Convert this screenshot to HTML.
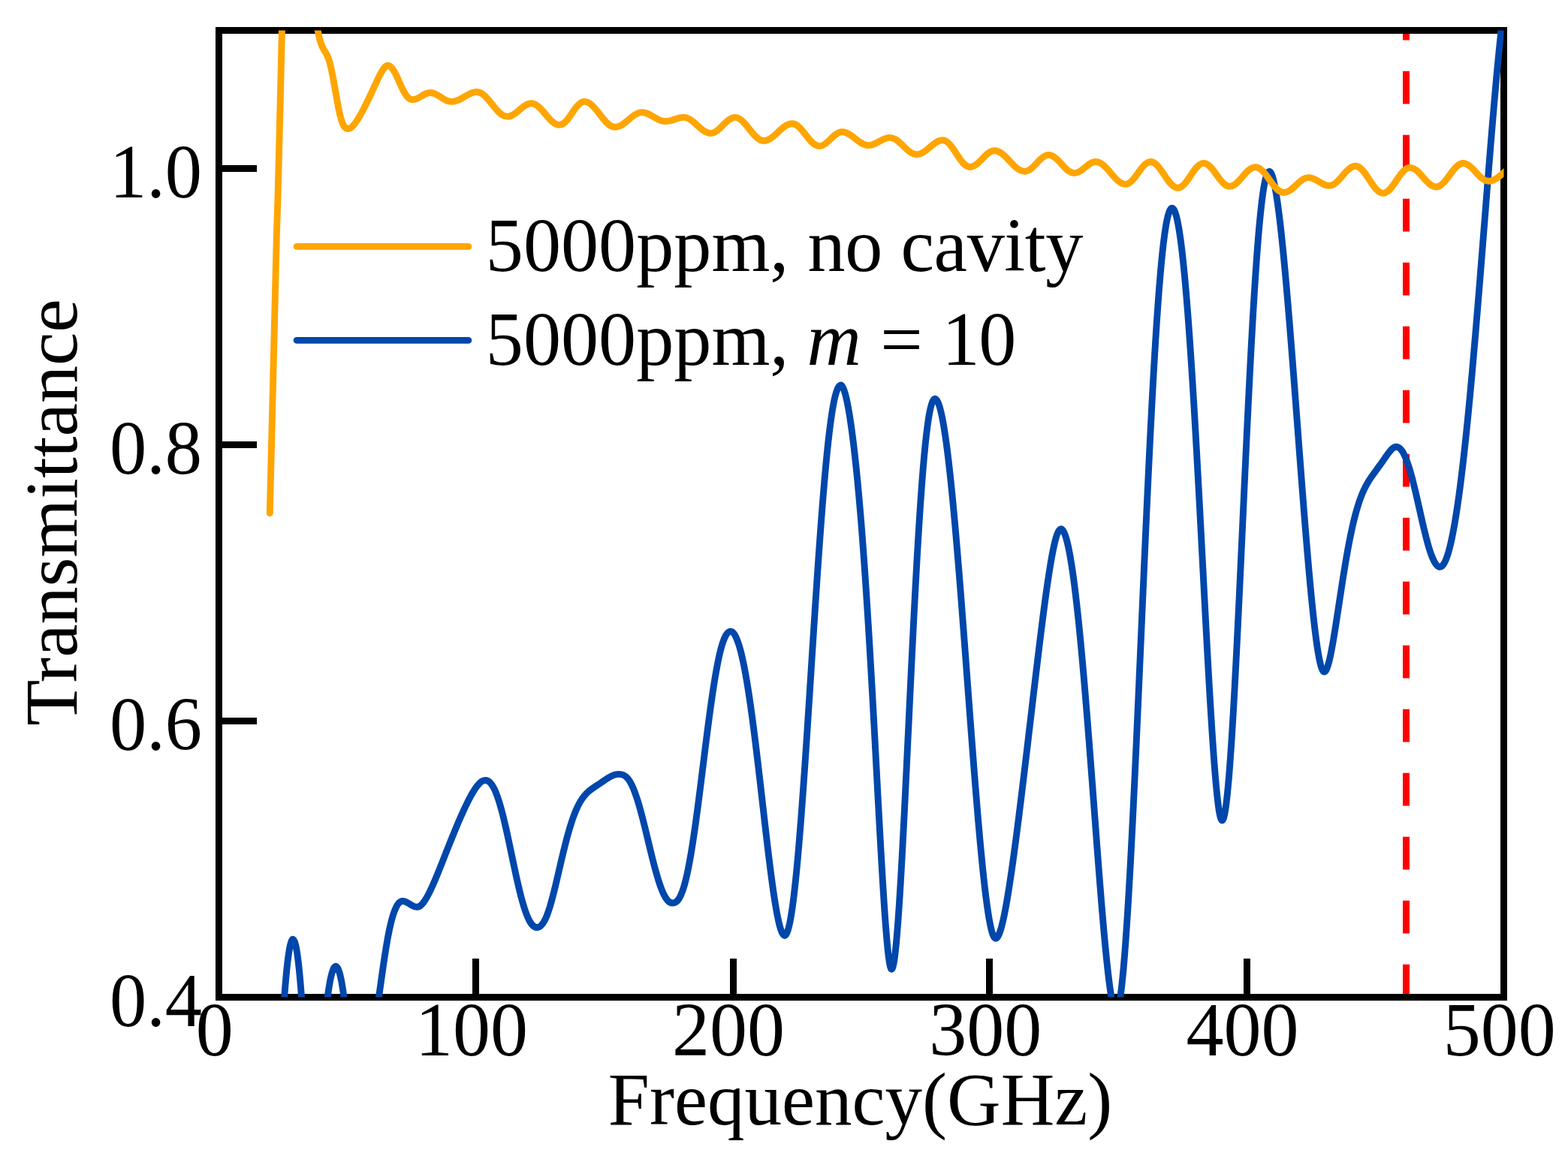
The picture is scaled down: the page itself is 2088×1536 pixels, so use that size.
<!DOCTYPE html>
<html lang="en"><head><meta charset="utf-8"><title>Transmittance vs Frequency</title>
<style>html,body{margin:0;padding:0;background:#fff}body{width:2088px;height:1536px;overflow:hidden}svg{display:block}text{font-family:"Liberation Serif","Times New Roman",serif;font-size:100px;fill:#000}</style></head><body>
<svg width="2088" height="1536" viewBox="0 0 2088 1536">
<defs><clipPath id="ax"><rect x="291.50" y="40.50" width="1711.00" height="1288.00"/></clipPath></defs>
<rect width="2088" height="1536" fill="#fff"/>
<path d="M1872.5 1328.50V0" stroke="#f00" stroke-width="9.00" stroke-dasharray="43.8 41.2" fill="none" clip-path="url(#ax)"/>
<path d="M629.0 1277h9V1328.5h-9zM972.0 1277h9V1328.5h-9zM1313.0 1277h9V1328.5h-9zM1656.0 1277h9V1328.5h-9zM291.5 956.0H342v9H291.5zM291.5 588.0H342v9H291.5zM291.5 220.0H342v9H291.5z" fill="#000"/>
<rect x="291.50" y="40.50" width="1711.00" height="1288.00" fill="none" stroke="#000" stroke-width="9.00"/>
<path d="M375.82 1371.68C376.04 1368.08 376.25 1364.56 376.46 1361.12C376.68 1357.68 376.89 1354.33 377.10 1351.05C377.33 1347.57 377.56 1344.18 377.78 1340.88C378.02 1337.39 378.27 1334.00 378.51 1330.72C378.76 1327.24 379.01 1323.89 379.27 1320.65C379.55 1317.06 379.83 1313.62 380.11 1310.31C380.41 1306.69 380.72 1303.24 381.03 1299.95C381.36 1296.38 381.70 1293.00 382.03 1289.82C382.40 1286.26 382.78 1282.95 383.15 1279.89C383.61 1276.17 384.06 1272.81 384.51 1269.82C385.11 1265.86 385.71 1262.53 386.32 1259.85C387.72 1253.59 389.12 1250.81 390.52 1251.50C391.71 1252.09 392.90 1255.18 394.08 1260.77C394.67 1263.53 395.26 1266.90 395.85 1270.89C396.29 1273.88 396.73 1277.21 397.17 1280.88C397.54 1284.00 397.92 1287.36 398.29 1290.98C398.62 1294.20 398.96 1297.63 399.29 1301.25C399.59 1304.43 399.88 1307.77 400.17 1311.26C400.45 1314.59 400.73 1318.06 401.01 1321.67C401.27 1324.94 401.52 1328.32 401.77 1331.81C402.01 1335.13 402.26 1338.54 402.50 1342.05C402.72 1345.37 402.95 1348.78 403.18 1352.28C403.39 1355.58 403.60 1358.96 403.82 1362.41C404.03 1365.87 404.24 1369.41 404.46 1373.03M431.10 1375.62C431.42 1372.09 431.74 1368.65 432.06 1365.33C432.39 1361.86 432.73 1358.52 433.06 1355.28C433.42 1351.79 433.78 1348.44 434.14 1345.21C434.54 1341.63 434.94 1338.22 435.35 1334.97C435.79 1331.40 436.23 1328.02 436.67 1324.85C437.16 1321.30 437.65 1317.99 438.15 1314.94C438.75 1311.23 439.35 1307.90 439.95 1304.93C440.74 1301.05 441.53 1297.80 442.31 1295.20C444.04 1289.52 445.76 1286.90 447.48 1287.35C449.03 1287.76 450.58 1290.65 452.13 1296.02C452.90 1298.70 453.67 1302.01 454.45 1305.93C455.04 1308.91 455.62 1312.25 456.21 1315.94C456.71 1319.05 457.20 1322.40 457.69 1326.01C458.12 1329.14 458.55 1332.45 458.97 1335.95C459.36 1339.12 459.75 1342.45 460.14 1345.93C460.50 1349.17 460.86 1352.55 461.22 1356.06C461.55 1359.31 461.89 1362.68 462.22 1366.16C462.51 1369.22 462.81 1372.38 463.10 1375.62M495.00 1370.00C496.29 1369.98 497.59 1366.49 498.88 1361.01C499.55 1358.18 500.22 1354.81 500.89 1351.07C501.44 1347.99 501.99 1344.66 502.54 1341.17C503.05 1337.95 503.56 1334.60 504.06 1331.16C504.54 1327.90 505.02 1324.56 505.50 1321.18C505.97 1317.87 506.44 1314.52 506.91 1311.16C507.38 1307.80 507.85 1304.43 508.32 1301.09C508.79 1297.75 509.26 1294.42 509.73 1291.14C510.22 1287.73 510.71 1284.37 511.20 1281.08C511.71 1277.67 512.21 1274.33 512.72 1271.07C513.25 1267.65 513.79 1264.33 514.32 1261.12C514.89 1257.70 515.46 1254.41 516.03 1251.26C516.66 1247.77 517.29 1244.46 517.93 1241.33C518.64 1237.81 519.36 1234.53 520.07 1231.49C520.91 1227.92 521.75 1224.69 522.59 1221.79C523.66 1218.11 524.73 1214.96 525.80 1212.30C527.38 1208.36 528.96 1205.48 530.54 1203.51C533.48 1199.87 536.42 1199.93 539.35 1200.96C542.25 1201.98 545.16 1204.15 548.06 1205.86C551.21 1207.71 554.37 1209.12 557.52 1207.87C559.92 1206.93 562.33 1204.48 564.73 1201.11C566.47 1198.67 568.21 1195.73 569.94 1192.46C571.42 1189.69 572.89 1186.67 574.37 1183.49C575.74 1180.53 577.12 1177.42 578.49 1174.21C579.78 1171.20 581.07 1168.10 582.37 1164.95C583.62 1161.89 584.87 1158.79 586.12 1155.66C587.36 1152.57 588.59 1149.47 589.82 1146.35C591.05 1143.24 592.29 1140.11 593.52 1136.99C594.75 1133.87 595.98 1130.76 597.21 1127.66C598.47 1124.50 599.72 1121.37 600.97 1118.26C602.24 1115.09 603.52 1111.96 604.79 1108.86C606.08 1105.71 607.37 1102.59 608.67 1099.52C609.98 1096.40 611.29 1093.32 612.61 1090.31C613.98 1087.15 615.35 1084.06 616.73 1081.04C618.16 1077.89 619.60 1074.82 621.03 1071.86C622.54 1068.74 624.06 1065.73 625.57 1062.88C627.23 1059.76 628.89 1056.84 630.54 1054.16C632.48 1051.03 634.42 1048.24 636.36 1045.94C638.97 1042.86 641.57 1040.65 644.18 1039.84C647.15 1038.91 650.12 1039.74 653.09 1042.96C654.87 1044.88 656.65 1047.69 658.43 1051.41C659.69 1054.05 660.95 1057.15 662.21 1060.68C663.25 1063.58 664.28 1066.76 665.32 1070.21C666.23 1073.26 667.14 1076.51 668.05 1079.94C668.89 1083.08 669.72 1086.37 670.56 1089.79C671.33 1092.97 672.11 1096.25 672.88 1099.62C673.63 1102.86 674.37 1106.17 675.12 1109.55C675.83 1112.80 676.55 1116.09 677.26 1119.43C677.96 1122.69 678.66 1125.99 679.36 1129.31C680.06 1132.63 680.76 1135.96 681.46 1139.29C682.16 1142.62 682.86 1145.95 683.56 1149.26C684.25 1152.57 684.95 1155.86 685.65 1159.11C686.37 1162.43 687.08 1165.71 687.80 1168.93C688.54 1172.29 689.29 1175.58 690.03 1178.79C690.82 1182.19 691.61 1185.50 692.40 1188.68C693.24 1192.05 694.07 1195.29 694.91 1198.37C695.84 1201.78 696.76 1205.01 697.69 1208.01C698.77 1211.50 699.85 1214.69 700.93 1217.55C702.28 1221.13 703.63 1224.19 704.99 1226.70C707.08 1230.58 709.18 1233.12 711.28 1234.39C714.36 1236.25 717.43 1235.87 720.51 1233.07C722.37 1231.37 724.23 1228.58 726.10 1224.65C727.36 1222.00 728.62 1218.83 729.87 1215.22C730.89 1212.30 731.91 1209.09 732.92 1205.63C733.82 1202.59 734.71 1199.36 735.61 1195.99C736.46 1192.80 737.30 1189.47 738.15 1186.06C738.95 1182.84 739.75 1179.54 740.55 1176.18C741.32 1172.93 742.09 1169.63 742.87 1166.31C743.64 1162.99 744.42 1159.65 745.19 1156.32C745.97 1152.98 746.74 1149.66 747.52 1146.36C748.29 1143.06 749.06 1139.80 749.84 1136.58C750.64 1133.27 751.44 1130.01 752.23 1126.82C753.08 1123.45 753.93 1120.15 754.78 1116.97C755.67 1113.60 756.57 1110.34 757.46 1107.22C758.43 1103.85 759.40 1100.63 760.37 1097.58C761.45 1094.15 762.54 1090.94 763.63 1087.94C764.87 1084.55 766.10 1081.44 767.34 1078.60C768.81 1075.21 770.29 1072.21 771.76 1069.56C773.60 1066.26 775.44 1063.51 777.28 1061.16C779.60 1058.19 781.93 1055.88 784.25 1053.90C786.96 1051.60 789.67 1049.74 792.38 1047.95C795.19 1046.09 798.00 1044.28 800.80 1042.40C803.59 1040.53 806.37 1038.60 809.15 1036.84C812.13 1034.95 815.11 1033.28 818.08 1032.31C821.39 1031.24 824.70 1031.04 828.00 1031.77C830.72 1032.37 833.43 1033.97 836.14 1037.32C837.88 1039.47 839.62 1042.32 841.36 1045.91C842.67 1048.60 843.98 1051.71 845.28 1055.21C846.37 1058.11 847.45 1061.27 848.54 1064.67C849.51 1067.72 850.49 1070.95 851.46 1074.35C852.35 1077.47 853.25 1080.72 854.14 1084.08C854.98 1087.27 855.83 1090.54 856.68 1093.89C857.49 1097.11 858.30 1100.40 859.12 1103.73C859.91 1106.99 860.71 1110.29 861.51 1113.61C862.29 1116.86 863.07 1120.12 863.86 1123.38C864.65 1126.70 865.45 1130.02 866.25 1133.30C867.05 1136.58 867.84 1139.83 868.64 1143.01C869.47 1146.33 870.30 1149.58 871.13 1152.75C872.01 1156.10 872.89 1159.34 873.76 1162.46C874.72 1165.87 875.68 1169.12 876.64 1172.19C877.71 1175.61 878.77 1178.80 879.84 1181.72C881.12 1185.21 882.40 1188.32 883.67 1190.99C885.43 1194.66 887.18 1197.51 888.94 1199.51C891.88 1202.86 894.83 1203.61 897.77 1202.80C900.15 1202.15 902.52 1200.21 904.89 1196.04C906.24 1193.69 907.58 1190.64 908.92 1186.82C909.90 1184.03 910.88 1180.83 911.86 1177.22C912.67 1174.24 913.48 1170.98 914.29 1167.45C914.99 1164.37 915.70 1161.07 916.40 1157.58C917.04 1154.42 917.67 1151.10 918.31 1147.63C918.90 1144.43 919.48 1141.11 920.06 1137.66C920.62 1134.41 921.17 1131.06 921.72 1127.60C922.23 1124.36 922.75 1121.03 923.26 1117.61C923.76 1114.31 924.26 1110.94 924.76 1107.49C925.24 1104.16 925.72 1100.77 926.21 1097.32C926.67 1094.00 927.13 1090.62 927.60 1087.19C928.05 1083.89 928.49 1080.54 928.94 1077.16C929.39 1073.78 929.83 1070.36 930.28 1066.91C930.71 1063.59 931.14 1060.24 931.57 1056.88C932.00 1053.51 932.43 1050.11 932.86 1046.70C933.29 1043.30 933.72 1039.87 934.15 1036.43C934.58 1033.00 935.01 1029.55 935.44 1026.10C935.85 1022.79 936.27 1019.47 936.68 1016.15C937.09 1012.84 937.51 1009.52 937.92 1006.21C938.35 1002.77 938.78 999.33 939.21 995.91C939.64 992.48 940.07 989.07 940.50 985.68C940.93 982.29 941.36 978.92 941.79 975.58C942.22 972.23 942.65 968.91 943.08 965.63C943.53 962.21 943.97 958.83 944.42 955.49C944.88 952.02 945.35 948.59 945.81 945.22C946.28 941.84 946.74 938.52 947.21 935.26C947.69 931.87 948.17 928.55 948.65 925.30C949.17 921.81 949.68 918.41 950.20 915.09C950.73 911.67 951.27 908.33 951.80 905.11C952.37 901.67 952.93 898.35 953.50 895.15C954.12 891.67 954.74 888.33 955.36 885.16C956.05 881.63 956.74 878.30 957.42 875.17C958.20 871.66 958.97 868.41 959.75 865.43C960.69 861.80 961.64 858.57 962.58 855.76C963.89 851.89 965.20 848.81 966.50 846.52C969.07 842.03 971.63 840.45 974.19 841.48C976.22 842.30 978.26 844.90 980.29 849.28C981.47 851.84 982.66 854.99 983.84 858.74C984.75 861.62 985.66 864.85 986.58 868.43C987.34 871.44 988.11 874.69 988.88 878.17C989.57 881.30 990.26 884.61 990.94 888.10C991.57 891.26 992.19 894.58 992.82 898.04C993.39 901.23 993.97 904.54 994.54 907.97C995.09 911.21 995.63 914.55 996.18 918.00C996.69 921.24 997.20 924.57 997.71 927.98C998.21 931.28 998.70 934.66 999.20 938.12C999.68 941.46 1000.16 944.88 1000.64 948.36C1001.10 951.72 1001.57 955.14 1002.03 958.62C1002.48 961.97 1002.93 965.38 1003.38 968.84C1003.81 972.18 1004.24 975.56 1004.67 978.97C1005.09 982.27 1005.50 985.60 1005.92 988.96C1006.34 992.33 1006.75 995.73 1007.17 999.15C1007.57 1002.45 1007.97 1005.78 1008.37 1009.13C1008.77 1012.47 1009.17 1015.85 1009.57 1019.24C1009.97 1022.64 1010.37 1026.05 1010.77 1029.48C1011.17 1032.91 1011.57 1036.36 1011.97 1039.82C1012.35 1043.14 1012.74 1046.48 1013.12 1049.82C1013.50 1053.16 1013.89 1056.51 1014.27 1059.86C1014.66 1063.22 1015.04 1066.57 1015.42 1069.93C1015.81 1073.29 1016.19 1076.65 1016.58 1080.00C1016.96 1083.36 1017.34 1086.71 1017.73 1090.05C1018.11 1093.39 1018.50 1096.72 1018.88 1100.04C1019.28 1103.50 1019.68 1106.95 1020.08 1110.38C1020.48 1113.80 1020.88 1117.21 1021.28 1120.60C1021.68 1123.98 1022.08 1127.34 1022.48 1130.68C1022.90 1134.14 1023.31 1137.57 1023.73 1140.97C1024.14 1144.36 1024.56 1147.72 1024.98 1151.03C1025.41 1154.48 1025.84 1157.87 1026.27 1161.21C1026.72 1164.67 1027.17 1168.07 1027.62 1171.41C1028.08 1174.86 1028.54 1178.24 1029.01 1181.54C1029.49 1184.95 1029.97 1188.28 1030.45 1191.50C1030.96 1194.94 1031.47 1198.27 1031.98 1201.47C1032.54 1204.97 1033.10 1208.32 1033.66 1211.50C1034.29 1215.05 1034.91 1218.38 1035.54 1221.47C1036.27 1225.12 1037.01 1228.43 1037.74 1231.37C1038.72 1235.27 1039.70 1238.50 1040.67 1240.94C1042.80 1246.27 1044.92 1247.91 1047.04 1244.49C1048.17 1242.67 1049.30 1239.49 1050.43 1235.00C1051.12 1232.23 1051.82 1228.96 1052.52 1225.21C1053.08 1222.17 1053.65 1218.81 1054.21 1215.15C1054.69 1212.03 1055.17 1208.69 1055.66 1205.14C1056.09 1201.95 1056.52 1198.59 1056.95 1195.07C1057.35 1191.81 1057.75 1188.42 1058.15 1184.89C1058.51 1181.65 1058.88 1178.30 1059.24 1174.84C1059.59 1171.53 1059.94 1168.13 1060.29 1164.63C1060.62 1161.30 1060.95 1157.88 1061.28 1154.37C1061.60 1151.04 1061.91 1147.64 1062.23 1144.16C1062.53 1140.86 1062.83 1137.50 1063.13 1134.08C1063.43 1130.66 1063.72 1127.17 1064.02 1123.63C1064.31 1120.28 1064.59 1116.88 1064.87 1113.42C1065.15 1109.97 1065.43 1106.47 1065.72 1102.92C1065.98 1099.57 1066.25 1096.19 1066.51 1092.76C1066.78 1089.34 1067.04 1085.87 1067.31 1082.36C1067.58 1078.86 1067.84 1075.31 1068.11 1071.73C1068.36 1068.37 1068.60 1064.99 1068.85 1061.57C1069.10 1058.15 1069.35 1054.70 1069.60 1051.22C1069.85 1047.74 1070.10 1044.24 1070.35 1040.71C1070.60 1037.17 1070.85 1033.62 1071.09 1030.03C1071.33 1026.69 1071.56 1023.32 1071.79 1019.94C1072.02 1016.55 1072.26 1013.15 1072.49 1009.72C1072.72 1006.30 1072.95 1002.86 1073.19 999.40C1073.42 995.94 1073.65 992.47 1073.88 988.98C1074.12 985.49 1074.35 981.98 1074.58 978.47C1074.81 974.95 1075.05 971.42 1075.28 967.87C1075.51 964.33 1075.74 960.78 1075.97 957.21C1076.21 953.65 1076.44 950.07 1076.67 946.49C1076.89 943.16 1077.10 939.82 1077.32 936.48C1077.54 933.14 1077.75 929.79 1077.97 926.44C1078.18 923.09 1078.40 919.73 1078.61 916.37C1078.83 913.01 1079.05 909.65 1079.26 906.28C1079.48 902.92 1079.69 899.55 1079.91 896.18C1080.12 892.81 1080.34 889.45 1080.56 886.08C1080.77 882.71 1080.99 879.34 1081.20 875.97C1081.42 872.61 1081.64 869.24 1081.85 865.88C1082.07 862.52 1082.28 859.16 1082.50 855.81C1082.71 852.45 1082.93 849.10 1083.15 845.76C1083.36 842.42 1083.58 839.08 1083.79 835.75C1084.03 832.16 1084.26 828.58 1084.49 825.01C1084.72 821.44 1084.96 817.88 1085.19 814.33C1085.42 810.78 1085.65 807.25 1085.88 803.72C1086.12 800.20 1086.35 796.69 1086.58 793.19C1086.81 789.69 1087.05 786.21 1087.28 782.74C1087.51 779.27 1087.74 775.82 1087.98 772.38C1088.21 768.95 1088.44 765.53 1088.67 762.13C1088.91 758.74 1089.14 755.36 1089.37 752.00C1089.60 748.64 1089.84 745.30 1090.07 741.98C1090.32 738.43 1090.57 734.90 1090.82 731.39C1091.06 727.89 1091.31 724.41 1091.56 720.96C1091.81 717.52 1092.06 714.10 1092.31 710.71C1092.56 707.32 1092.81 703.96 1093.06 700.63C1093.32 697.08 1093.59 693.56 1093.85 690.08C1094.12 686.61 1094.38 683.17 1094.65 679.77C1094.92 676.37 1095.18 673.00 1095.45 669.69C1095.73 666.16 1096.01 662.68 1096.29 659.25C1096.58 655.82 1096.86 652.43 1097.14 649.10C1097.44 645.57 1097.74 642.10 1098.04 638.69C1098.34 635.27 1098.63 631.92 1098.93 628.63C1099.25 625.15 1099.56 621.74 1099.88 618.41C1100.21 614.89 1100.54 611.46 1100.87 608.10C1101.22 604.58 1101.57 601.15 1101.92 597.80C1102.29 594.30 1102.65 590.90 1103.02 587.60C1103.40 584.15 1103.78 580.82 1104.16 577.60C1104.58 574.10 1104.99 570.73 1105.41 567.51C1105.85 564.02 1106.30 560.70 1106.75 557.55C1107.25 554.04 1107.75 550.74 1108.25 547.65C1108.83 544.04 1109.41 540.72 1109.99 537.68C1110.70 533.94 1111.42 530.64 1112.13 527.77C1113.14 523.70 1114.15 520.50 1115.17 518.15C1117.40 512.99 1119.62 511.59 1121.85 515.10C1123.06 516.99 1124.26 520.23 1125.47 524.54C1126.25 527.35 1127.03 530.62 1127.82 534.30C1128.46 537.34 1129.11 540.66 1129.76 544.26C1130.33 547.43 1130.91 550.81 1131.48 554.39C1131.99 557.60 1132.50 560.96 1133.01 564.48C1133.48 567.69 1133.95 571.03 1134.42 574.50C1134.85 577.74 1135.29 581.09 1135.73 584.56C1136.13 587.79 1136.54 591.11 1136.95 594.53C1137.34 597.82 1137.73 601.21 1138.12 604.68C1138.50 608.02 1138.88 611.44 1139.25 614.95C1139.61 618.32 1139.98 621.76 1140.34 625.28C1140.68 628.66 1141.03 632.10 1141.38 635.62C1141.71 638.99 1142.04 642.42 1142.37 645.92C1142.69 649.26 1143.00 652.66 1143.32 656.12C1143.62 659.41 1143.92 662.77 1144.22 666.17C1144.53 669.58 1144.83 673.05 1145.13 676.57C1145.41 679.91 1145.70 683.31 1145.99 686.75C1146.27 690.20 1146.56 693.70 1146.85 697.24C1147.12 700.61 1147.39 704.01 1147.66 707.47C1147.93 710.92 1148.20 714.42 1148.47 717.97C1148.73 721.32 1148.99 724.71 1149.24 728.14C1149.50 731.57 1149.75 735.04 1150.01 738.56C1150.25 741.87 1150.49 745.21 1150.73 748.59C1150.97 751.97 1151.22 755.38 1151.46 758.84C1151.70 762.29 1151.94 765.77 1152.18 769.30C1152.41 772.60 1152.63 775.94 1152.86 779.30C1153.08 782.67 1153.31 786.06 1153.54 789.49C1153.76 792.92 1153.99 796.37 1154.21 799.86C1154.44 803.35 1154.67 806.86 1154.89 810.41C1155.10 813.72 1155.31 817.06 1155.52 820.42C1155.74 823.78 1155.95 827.17 1156.16 830.58C1156.37 833.99 1156.58 837.42 1156.79 840.88C1157.00 844.34 1157.21 847.83 1157.42 851.33C1157.63 854.84 1157.84 858.37 1158.06 861.92C1158.27 865.47 1158.48 869.05 1158.69 872.65C1158.88 875.98 1159.08 879.34 1159.28 882.72C1159.47 886.09 1159.67 889.49 1159.86 892.90C1160.06 896.31 1160.26 899.74 1160.45 903.18C1160.65 906.62 1160.84 910.08 1161.04 913.56C1161.23 917.03 1161.43 920.52 1161.63 924.02C1161.82 927.53 1162.02 931.05 1162.21 934.58C1162.41 938.11 1162.61 941.65 1162.80 945.21C1163.00 948.76 1163.19 952.33 1163.39 955.91C1163.59 959.49 1163.78 963.08 1163.98 966.67C1164.17 970.27 1164.37 973.88 1164.56 977.49C1164.75 980.83 1164.93 984.17 1165.11 987.52C1165.29 990.87 1165.47 994.22 1165.65 997.58C1165.83 1000.94 1166.01 1004.30 1166.19 1007.67C1166.37 1011.03 1166.55 1014.40 1166.73 1017.77C1166.91 1021.14 1167.10 1024.51 1167.28 1027.89C1167.46 1031.26 1167.64 1034.63 1167.82 1038.00C1168.00 1041.37 1168.18 1044.74 1168.36 1048.11C1168.54 1051.47 1168.72 1054.84 1168.90 1058.20C1169.08 1061.55 1169.27 1064.91 1169.45 1068.26C1169.63 1071.60 1169.81 1074.95 1169.99 1078.28C1170.18 1081.89 1170.38 1085.49 1170.58 1089.08C1170.77 1092.67 1170.97 1096.25 1171.16 1099.82C1171.36 1103.38 1171.56 1106.93 1171.75 1110.46C1171.95 1114.00 1172.14 1117.51 1172.34 1121.01C1172.53 1124.51 1172.73 1127.98 1172.93 1131.44C1173.12 1134.89 1173.32 1138.32 1173.51 1141.73C1173.71 1145.14 1173.91 1148.52 1174.10 1151.87C1174.31 1155.49 1174.52 1159.06 1174.73 1162.61C1174.95 1166.15 1175.16 1169.65 1175.37 1173.12C1175.58 1176.58 1175.79 1180.00 1176.00 1183.38C1176.21 1186.76 1176.42 1190.09 1176.63 1193.37C1176.86 1196.89 1177.08 1200.35 1177.31 1203.75C1177.54 1207.15 1177.76 1210.48 1177.99 1213.75C1178.23 1217.23 1178.47 1220.63 1178.71 1223.95C1178.97 1227.48 1179.22 1230.91 1179.48 1234.24C1179.75 1237.76 1180.02 1241.16 1180.29 1244.43C1180.60 1248.06 1180.90 1251.53 1181.20 1254.82C1181.53 1258.44 1181.86 1261.85 1182.19 1265.02C1182.58 1268.76 1182.98 1272.17 1183.37 1275.20C1183.89 1279.28 1184.42 1282.68 1184.95 1285.29C1186.28 1291.89 1187.62 1292.92 1188.95 1288.55C1189.61 1286.40 1190.26 1283.06 1190.92 1278.65C1191.35 1275.72 1191.79 1272.31 1192.22 1268.47C1192.58 1265.31 1192.94 1261.86 1193.30 1258.14C1193.61 1254.95 1193.92 1251.57 1194.22 1248.00C1194.51 1244.72 1194.79 1241.30 1195.07 1237.72C1195.33 1234.48 1195.58 1231.11 1195.84 1227.63C1196.08 1224.33 1196.33 1220.92 1196.57 1217.42C1196.80 1214.11 1197.03 1210.71 1197.26 1207.23C1197.48 1203.94 1197.70 1200.58 1197.92 1197.16C1198.13 1193.74 1198.35 1190.24 1198.57 1186.69C1198.78 1183.35 1198.98 1179.95 1199.19 1176.50C1199.39 1173.05 1199.60 1169.54 1199.80 1165.99C1199.99 1162.66 1200.19 1159.29 1200.38 1155.88C1200.57 1152.47 1200.76 1149.02 1200.96 1145.53C1201.15 1142.05 1201.34 1138.52 1201.53 1134.96C1201.71 1131.64 1201.89 1128.29 1202.07 1124.91C1202.25 1121.53 1202.43 1118.13 1202.61 1114.70C1202.79 1111.26 1202.97 1107.81 1203.15 1104.33C1203.33 1100.85 1203.51 1097.34 1203.69 1093.82C1203.87 1090.29 1204.05 1086.75 1204.23 1083.18C1204.40 1079.62 1204.58 1076.03 1204.76 1072.43C1204.93 1069.08 1205.10 1065.72 1205.26 1062.35C1205.43 1058.98 1205.60 1055.59 1205.76 1052.19C1205.93 1048.80 1206.10 1045.39 1206.26 1041.97C1206.43 1038.55 1206.60 1035.11 1206.76 1031.68C1206.93 1028.24 1207.10 1024.79 1207.26 1021.33C1207.43 1017.88 1207.60 1014.42 1207.76 1010.95C1207.93 1007.48 1208.10 1004.01 1208.26 1000.53C1208.43 997.05 1208.60 993.57 1208.76 990.08C1208.93 986.59 1209.10 983.11 1209.26 979.62C1209.43 976.12 1209.60 972.63 1209.76 969.14C1209.93 965.65 1210.10 962.16 1210.26 958.66C1210.43 955.17 1210.60 951.68 1210.76 948.19C1210.93 944.71 1211.10 941.22 1211.26 937.74C1211.43 934.26 1211.60 930.78 1211.76 927.30C1211.93 923.83 1212.10 920.36 1212.26 916.90C1212.43 913.44 1212.60 909.98 1212.76 906.53C1212.93 903.08 1213.10 899.64 1213.26 896.20C1213.43 892.77 1213.60 889.35 1213.77 885.93C1213.93 882.51 1214.10 879.11 1214.27 875.71C1214.43 872.32 1214.60 868.93 1214.77 865.56C1214.93 862.19 1215.10 858.83 1215.27 855.48C1215.43 852.13 1215.60 848.80 1215.77 845.48C1215.94 841.90 1216.12 838.34 1216.30 834.80C1216.48 831.25 1216.66 827.73 1216.84 824.22C1217.02 820.72 1217.20 817.23 1217.38 813.76C1217.56 810.29 1217.74 806.84 1217.92 803.42C1218.10 799.99 1218.28 796.58 1218.46 793.20C1218.64 789.81 1218.82 786.45 1219.00 783.11C1219.19 779.54 1219.38 775.99 1219.57 772.46C1219.77 768.94 1219.96 765.45 1220.15 761.98C1220.34 758.51 1220.54 755.08 1220.73 751.67C1220.92 748.27 1221.11 744.89 1221.30 741.55C1221.51 737.98 1221.71 734.45 1221.92 730.96C1222.13 727.46 1222.33 724.01 1222.54 720.59C1222.74 717.17 1222.95 713.79 1223.15 710.45C1223.37 706.90 1223.59 703.40 1223.80 699.94C1224.02 696.48 1224.24 693.07 1224.46 689.71C1224.69 686.15 1224.92 682.64 1225.15 679.18C1225.38 675.73 1225.61 672.33 1225.84 668.98C1226.09 665.46 1226.33 661.99 1226.57 658.58C1226.82 655.18 1227.06 651.84 1227.31 648.57C1227.56 645.12 1227.82 641.74 1228.07 638.44C1228.34 634.97 1228.61 631.59 1228.88 628.28C1229.16 624.82 1229.45 621.45 1229.73 618.17C1230.02 614.74 1230.32 611.41 1230.61 608.19C1230.93 604.68 1231.25 601.29 1231.58 598.02C1231.92 594.49 1232.27 591.10 1232.61 587.86C1232.99 584.37 1233.36 581.05 1233.73 577.89C1234.15 574.30 1234.58 570.92 1235.00 567.75C1235.49 564.11 1235.97 560.75 1236.46 557.66C1237.05 553.93 1237.64 550.62 1238.23 547.70C1239.04 543.71 1239.85 540.48 1240.65 537.99C1242.62 531.90 1244.59 530.36 1246.56 532.09C1248.02 533.36 1249.47 536.39 1250.93 541.01C1251.79 543.75 1252.65 547.05 1253.51 550.88C1254.19 553.92 1254.88 557.28 1255.56 560.96C1256.13 564.07 1256.71 567.39 1257.28 570.93C1257.80 574.14 1258.32 577.52 1258.84 581.08C1259.31 584.27 1259.78 587.59 1260.24 591.04C1260.69 594.36 1261.14 597.81 1261.59 601.36C1262.00 604.64 1262.42 608.01 1262.83 611.48C1263.22 614.79 1263.62 618.19 1264.01 621.68C1264.39 625.01 1264.77 628.41 1265.15 631.89C1265.51 635.20 1265.86 638.58 1266.22 642.02C1266.56 645.28 1266.91 648.61 1267.25 651.99C1267.59 655.37 1267.93 658.81 1268.27 662.30C1268.59 665.60 1268.92 668.95 1269.24 672.35C1269.56 675.75 1269.89 679.19 1270.21 682.68C1270.51 685.97 1270.82 689.30 1271.13 692.67C1271.43 696.04 1271.74 699.45 1272.04 702.89C1272.35 706.33 1272.65 709.80 1272.96 713.31C1273.24 716.62 1273.53 719.95 1273.82 723.31C1274.11 726.67 1274.39 730.06 1274.68 733.47C1274.97 736.89 1275.26 740.33 1275.54 743.80C1275.83 747.27 1276.12 750.76 1276.40 754.28C1276.69 757.79 1276.98 761.33 1277.27 764.89C1277.54 768.23 1277.80 771.59 1278.07 774.97C1278.34 778.34 1278.61 781.74 1278.88 785.15C1279.15 788.56 1279.42 791.98 1279.69 795.43C1279.96 798.87 1280.23 802.33 1280.50 805.80C1280.77 809.27 1281.04 812.76 1281.31 816.26C1281.58 819.76 1281.84 823.27 1282.11 826.79C1282.38 830.31 1282.65 833.85 1282.92 837.39C1283.19 840.94 1283.46 844.49 1283.73 848.05C1283.98 851.38 1284.23 854.71 1284.48 858.05C1284.74 861.38 1284.99 864.73 1285.24 868.08C1285.49 871.43 1285.74 874.78 1285.99 878.14C1286.24 881.50 1286.50 884.86 1286.75 888.22C1287.00 891.59 1287.25 894.96 1287.50 898.33C1287.75 901.69 1288.00 905.06 1288.25 908.44C1288.51 911.81 1288.76 915.18 1289.01 918.55C1289.26 921.92 1289.51 925.29 1289.76 928.65C1290.01 932.02 1290.27 935.38 1290.52 938.75C1290.77 942.11 1291.02 945.46 1291.27 948.82C1291.52 952.17 1291.77 955.52 1292.03 958.86C1292.28 962.21 1292.53 965.54 1292.78 968.87C1293.05 972.44 1293.32 976.00 1293.59 979.55C1293.86 983.10 1294.13 986.64 1294.40 990.17C1294.67 993.69 1294.93 997.21 1295.20 1000.71C1295.47 1004.22 1295.74 1007.71 1296.01 1011.19C1296.28 1014.66 1296.55 1018.12 1296.82 1021.57C1297.09 1025.02 1297.36 1028.45 1297.63 1031.86C1297.90 1035.27 1298.17 1038.66 1298.44 1042.04C1298.71 1045.41 1298.97 1048.77 1299.24 1052.10C1299.53 1055.66 1299.82 1059.19 1300.11 1062.70C1300.39 1066.21 1300.68 1069.69 1300.97 1073.14C1301.25 1076.59 1301.54 1080.02 1301.83 1083.41C1302.12 1086.81 1302.40 1090.17 1302.69 1093.51C1303.00 1097.05 1303.30 1100.55 1303.61 1104.02C1303.91 1107.48 1304.22 1110.91 1304.52 1114.30C1304.83 1117.68 1305.13 1121.03 1305.44 1124.33C1305.76 1127.83 1306.08 1131.27 1306.41 1134.67C1306.73 1138.06 1307.05 1141.41 1307.38 1144.69C1307.72 1148.16 1308.06 1151.57 1308.40 1154.92C1308.76 1158.44 1309.12 1161.88 1309.48 1165.25C1309.86 1168.79 1310.23 1172.25 1310.61 1175.62C1311.00 1179.14 1311.40 1182.57 1311.79 1185.90C1312.21 1189.38 1312.62 1192.74 1313.03 1195.98C1313.48 1199.51 1313.93 1202.89 1314.38 1206.12C1314.87 1209.61 1315.35 1212.93 1315.83 1216.06C1316.39 1219.65 1316.95 1223.00 1317.50 1226.08C1318.17 1229.76 1318.83 1233.06 1319.50 1235.95C1320.43 1240.02 1321.36 1243.28 1322.30 1245.66C1324.47 1251.18 1326.64 1251.21 1328.81 1247.69C1330.06 1245.66 1331.32 1242.47 1332.57 1238.37C1333.44 1235.53 1334.31 1232.25 1335.17 1228.59C1335.91 1225.50 1336.64 1222.15 1337.37 1218.57C1338.01 1215.45 1338.65 1212.17 1339.28 1208.73C1339.88 1205.50 1340.48 1202.13 1341.08 1198.64C1341.64 1195.38 1342.20 1192.02 1342.75 1188.56C1343.28 1185.33 1343.80 1182.03 1344.32 1178.66C1344.82 1175.41 1345.32 1172.09 1345.82 1168.71C1346.30 1165.46 1346.79 1162.16 1347.27 1158.81C1347.75 1155.45 1348.23 1152.05 1348.72 1148.60C1349.18 1145.28 1349.64 1141.93 1350.10 1138.54C1350.57 1135.15 1351.03 1131.72 1351.49 1128.26C1351.94 1124.94 1352.38 1121.59 1352.82 1118.21C1353.27 1114.83 1353.71 1111.42 1354.15 1107.99C1354.60 1104.56 1355.04 1101.10 1355.49 1097.62C1355.91 1094.29 1356.33 1090.94 1356.76 1087.57C1357.18 1084.20 1357.61 1080.81 1358.03 1077.40C1358.46 1074.00 1358.88 1070.58 1359.30 1067.14C1359.73 1063.70 1360.15 1060.24 1360.58 1056.78C1360.98 1053.47 1361.39 1050.14 1361.79 1046.81C1362.20 1043.48 1362.60 1040.13 1363.01 1036.78C1363.41 1033.42 1363.82 1030.06 1364.22 1026.69C1364.63 1023.31 1365.03 1019.93 1365.44 1016.54C1365.84 1013.15 1366.25 1009.75 1366.65 1006.35C1367.06 1002.95 1367.46 999.54 1367.87 996.12C1368.27 992.71 1368.68 989.29 1369.08 985.87C1369.49 982.44 1369.89 979.01 1370.30 975.58C1370.70 972.15 1371.11 968.72 1371.51 965.28C1371.92 961.85 1372.32 958.41 1372.73 954.97C1373.13 951.53 1373.54 948.10 1373.95 944.66C1374.35 941.22 1374.76 937.79 1375.16 934.35C1375.57 930.92 1375.97 927.49 1376.38 924.06C1376.78 920.63 1377.19 917.21 1377.59 913.79C1378.00 910.37 1378.40 906.96 1378.81 903.55C1379.21 900.15 1379.62 896.75 1380.02 893.36C1380.43 889.97 1380.83 886.58 1381.24 883.21C1381.64 879.84 1382.05 876.48 1382.45 873.13C1382.86 869.79 1383.26 866.45 1383.67 863.13C1384.09 859.66 1384.52 856.19 1384.94 852.75C1385.36 849.31 1385.79 845.89 1386.21 842.49C1386.64 839.09 1387.06 835.71 1387.49 832.36C1387.91 829.01 1388.33 825.69 1388.76 822.39C1389.20 818.94 1389.65 815.53 1390.09 812.15C1390.53 808.78 1390.98 805.44 1391.42 802.14C1391.88 798.70 1392.35 795.30 1392.81 791.96C1393.29 788.47 1393.77 785.04 1394.26 781.68C1394.74 778.31 1395.22 775.01 1395.70 771.78C1396.22 768.28 1396.74 764.88 1397.27 761.56C1397.81 758.13 1398.35 754.79 1398.89 751.57C1399.46 748.12 1400.04 744.80 1400.62 741.63C1401.26 738.14 1401.89 734.83 1402.53 731.73C1403.26 728.16 1404.00 724.87 1404.73 721.89C1405.66 718.13 1406.58 714.88 1407.51 712.24C1409.35 706.98 1411.20 704.23 1413.04 704.65C1414.83 705.05 1416.61 707.87 1418.39 712.86C1419.34 715.51 1420.29 718.78 1421.24 722.63C1421.98 725.61 1422.71 728.95 1423.45 732.63C1424.07 735.73 1424.69 739.07 1425.32 742.65C1425.87 745.85 1426.43 749.23 1426.99 752.80C1427.49 756.05 1428.00 759.45 1428.51 762.99C1428.97 766.19 1429.42 769.51 1429.88 772.95C1430.33 776.26 1430.77 779.68 1431.21 783.20C1431.62 786.46 1432.03 789.81 1432.44 793.25C1432.83 796.55 1433.22 799.93 1433.61 803.39C1433.99 806.70 1434.37 810.08 1434.74 813.53C1435.10 816.84 1435.46 820.20 1435.82 823.63C1436.17 826.90 1436.51 830.22 1436.86 833.60C1437.20 836.98 1437.54 840.41 1437.89 843.90C1438.21 847.22 1438.54 850.59 1438.87 854.00C1439.20 857.41 1439.52 860.87 1439.85 864.37C1440.16 867.70 1440.47 871.06 1440.78 874.46C1441.09 877.87 1441.41 881.31 1441.72 884.79C1442.01 888.08 1442.31 891.41 1442.60 894.77C1442.89 898.13 1443.19 901.52 1443.48 904.94C1443.78 908.36 1444.07 911.81 1444.37 915.29C1444.66 918.77 1444.96 922.27 1445.25 925.81C1445.53 929.14 1445.81 932.50 1446.09 935.89C1446.36 939.27 1446.64 942.68 1446.92 946.10C1447.20 949.53 1447.48 952.98 1447.76 956.45C1448.03 959.92 1448.31 963.40 1448.59 966.91C1448.87 970.42 1449.15 973.94 1449.42 977.48C1449.69 980.81 1449.95 984.16 1450.21 987.52C1450.47 990.88 1450.73 994.25 1451.00 997.64C1451.26 1001.03 1451.52 1004.42 1451.78 1007.83C1452.04 1011.24 1452.31 1014.66 1452.57 1018.09C1452.83 1021.52 1453.09 1024.96 1453.35 1028.40C1453.61 1031.85 1453.88 1035.30 1454.14 1038.76C1454.40 1042.22 1454.66 1045.68 1454.92 1049.15C1455.19 1052.62 1455.45 1056.10 1455.71 1059.57C1455.97 1063.05 1456.23 1066.53 1456.50 1070.01C1456.76 1073.49 1457.02 1076.98 1457.28 1080.46C1457.54 1083.94 1457.80 1087.42 1458.07 1090.90C1458.33 1094.38 1458.59 1097.85 1458.85 1101.33C1459.11 1104.80 1459.38 1108.27 1459.64 1111.73C1459.90 1115.19 1460.16 1118.65 1460.42 1122.10C1460.69 1125.55 1460.95 1128.99 1461.21 1132.42C1461.47 1135.85 1461.73 1139.27 1461.99 1142.67C1462.26 1146.08 1462.52 1149.48 1462.78 1152.86C1463.04 1156.24 1463.30 1159.61 1463.57 1162.96C1463.83 1166.31 1464.09 1169.65 1464.35 1172.97C1464.63 1176.49 1464.91 1179.99 1465.19 1183.47C1465.46 1186.95 1465.74 1190.41 1466.02 1193.83C1466.30 1197.26 1466.58 1200.67 1466.86 1204.04C1467.13 1207.41 1467.41 1210.76 1467.69 1214.07C1467.98 1217.57 1468.28 1221.04 1468.57 1224.47C1468.87 1227.90 1469.16 1231.29 1469.46 1234.64C1469.77 1238.17 1470.08 1241.65 1470.39 1245.08C1470.70 1248.51 1471.01 1251.88 1471.32 1255.20C1471.65 1258.70 1471.98 1262.12 1472.31 1265.48C1472.65 1269.01 1472.99 1272.46 1473.34 1275.82C1473.70 1279.35 1474.06 1282.78 1474.42 1286.11C1474.79 1289.60 1475.17 1292.97 1475.55 1296.22C1475.96 1299.76 1476.36 1303.16 1476.77 1306.40C1477.22 1309.91 1477.66 1313.23 1478.10 1316.36C1478.61 1319.95 1479.11 1323.28 1479.62 1326.33C1480.24 1330.06 1480.87 1333.37 1481.49 1336.20C1482.47 1340.66 1483.45 1343.92 1484.43 1345.77C1486.10 1348.89 1487.76 1347.72 1489.43 1341.13C1490.08 1338.57 1490.72 1335.27 1491.37 1331.25C1491.85 1328.27 1492.33 1324.89 1492.81 1321.14C1493.21 1318.03 1493.61 1314.67 1494.00 1311.06C1494.35 1307.90 1494.70 1304.55 1495.05 1301.02C1495.36 1297.83 1495.68 1294.48 1495.99 1290.99C1496.29 1287.69 1496.59 1284.25 1496.89 1280.69C1497.17 1277.33 1497.45 1273.85 1497.73 1270.27C1498.00 1266.90 1498.26 1263.43 1498.53 1259.87C1498.77 1256.53 1499.02 1253.11 1499.27 1249.61C1499.50 1246.35 1499.74 1243.01 1499.97 1239.61C1500.20 1236.21 1500.43 1232.75 1500.66 1229.22C1500.88 1225.94 1501.09 1222.61 1501.31 1219.22C1501.52 1215.83 1501.74 1212.39 1501.96 1208.90C1502.17 1205.41 1502.39 1201.86 1502.60 1198.27C1502.80 1194.95 1503.00 1191.59 1503.20 1188.19C1503.40 1184.79 1503.60 1181.35 1503.79 1177.86C1503.99 1174.38 1504.19 1170.86 1504.39 1167.30C1504.59 1163.74 1504.79 1160.14 1504.99 1156.51C1505.17 1153.17 1505.35 1149.81 1505.53 1146.42C1505.72 1143.03 1505.90 1139.60 1506.08 1136.15C1506.26 1132.70 1506.44 1129.22 1506.63 1125.71C1506.81 1122.21 1506.99 1118.67 1507.17 1115.11C1507.36 1111.55 1507.54 1107.96 1507.72 1104.35C1507.90 1100.74 1508.08 1097.10 1508.27 1093.44C1508.43 1090.11 1508.60 1086.76 1508.76 1083.39C1508.93 1080.03 1509.10 1076.64 1509.26 1073.24C1509.43 1069.83 1509.59 1066.41 1509.76 1062.97C1509.92 1059.53 1510.09 1056.07 1510.26 1052.60C1510.42 1049.12 1510.59 1045.64 1510.75 1042.13C1510.92 1038.62 1511.08 1035.10 1511.25 1031.57C1511.41 1028.03 1511.58 1024.48 1511.75 1020.92C1511.91 1017.36 1512.08 1013.78 1512.24 1010.19C1512.41 1006.60 1512.57 1003.00 1512.74 999.38C1512.91 995.77 1513.07 992.14 1513.24 988.50C1513.40 984.86 1513.57 981.22 1513.73 977.56C1513.90 973.90 1514.07 970.23 1514.23 966.55C1514.40 962.87 1514.56 959.18 1514.73 955.49C1514.88 952.16 1515.03 948.83 1515.18 945.49C1515.32 942.15 1515.47 938.80 1515.62 935.45C1515.77 932.10 1515.92 928.74 1516.07 925.38C1516.22 922.02 1516.37 918.66 1516.52 915.28C1516.67 911.91 1516.82 908.54 1516.96 905.16C1517.11 901.78 1517.26 898.40 1517.41 895.01C1517.56 891.63 1517.71 888.24 1517.86 884.85C1518.01 881.46 1518.16 878.07 1518.31 874.67C1518.46 871.28 1518.60 867.88 1518.75 864.48C1518.90 861.09 1519.05 857.69 1519.20 854.29C1519.35 850.89 1519.50 847.49 1519.65 844.09C1519.80 840.69 1519.95 837.29 1520.10 833.90C1520.24 830.50 1520.39 827.10 1520.54 823.70C1520.69 820.31 1520.84 816.91 1520.99 813.52C1521.14 810.13 1521.29 806.74 1521.44 803.35C1521.59 799.96 1521.74 796.57 1521.88 793.19C1522.03 789.81 1522.18 786.43 1522.33 783.05C1522.48 779.68 1522.63 776.31 1522.78 772.94C1522.93 769.57 1523.08 766.21 1523.23 762.85C1523.38 759.50 1523.52 756.14 1523.67 752.80C1523.82 749.45 1523.97 746.11 1524.12 742.77C1524.29 739.07 1524.45 735.37 1524.62 731.68C1524.78 727.99 1524.95 724.31 1525.12 720.63C1525.28 716.96 1525.45 713.30 1525.61 709.65C1525.78 705.99 1525.94 702.35 1526.11 698.72C1526.28 695.08 1526.44 691.46 1526.61 687.85C1526.77 684.24 1526.94 680.64 1527.10 677.06C1527.27 673.47 1527.43 669.90 1527.60 666.34C1527.77 662.78 1527.93 659.23 1528.10 655.69C1528.26 652.16 1528.43 648.64 1528.59 645.13C1528.76 641.63 1528.93 638.13 1529.09 634.66C1529.26 631.18 1529.42 627.72 1529.59 624.27C1529.75 620.83 1529.92 617.40 1530.09 613.99C1530.25 610.57 1530.42 607.18 1530.58 603.80C1530.75 600.42 1530.91 597.05 1531.08 593.71C1531.26 590.03 1531.44 586.37 1531.63 582.74C1531.81 579.11 1531.99 575.49 1532.17 571.90C1532.36 568.32 1532.54 564.75 1532.72 561.21C1532.90 557.67 1533.08 554.15 1533.27 550.66C1533.45 547.17 1533.63 543.70 1533.81 540.26C1534.00 536.82 1534.18 533.40 1534.36 530.02C1534.54 526.63 1534.72 523.26 1534.91 519.93C1535.11 516.29 1535.30 512.69 1535.50 509.11C1535.70 505.54 1535.90 502.00 1536.10 498.50C1536.30 495.00 1536.50 491.53 1536.70 488.09C1536.89 484.66 1537.09 481.26 1537.29 477.90C1537.51 474.25 1537.72 470.65 1537.94 467.09C1538.15 463.54 1538.37 460.02 1538.58 456.55C1538.80 453.08 1539.01 449.66 1539.23 446.28C1539.45 442.90 1539.66 439.56 1539.88 436.28C1540.11 432.74 1540.34 429.25 1540.57 425.82C1540.80 422.38 1541.04 419.01 1541.27 415.68C1541.52 412.12 1541.76 408.63 1542.01 405.20C1542.26 401.77 1542.51 398.40 1542.76 395.10C1543.02 391.58 1543.29 388.14 1543.55 384.77C1543.84 381.20 1544.12 377.70 1544.40 374.30C1544.70 370.70 1545.00 367.19 1545.29 363.78C1545.61 360.19 1545.92 356.70 1546.24 353.33C1546.57 349.77 1546.90 346.35 1547.23 343.05C1547.58 339.58 1547.93 336.25 1548.28 333.06C1548.66 329.56 1549.04 326.24 1549.42 323.07C1549.85 319.50 1550.28 316.14 1550.71 313.00C1551.21 309.37 1551.70 306.02 1552.20 302.96C1552.81 299.18 1553.43 295.83 1554.04 292.91C1554.89 288.88 1555.73 285.66 1556.58 283.21C1558.62 277.28 1560.66 275.79 1562.71 278.44C1563.94 280.03 1565.17 283.14 1566.39 287.73C1567.13 290.50 1567.87 293.80 1568.61 297.63C1569.19 300.62 1569.77 303.92 1570.35 307.55C1570.85 310.71 1571.35 314.10 1571.86 317.74C1572.30 320.95 1572.74 324.34 1573.19 327.91C1573.59 331.13 1573.99 334.49 1574.39 338.00C1574.76 341.25 1575.13 344.62 1575.50 348.12C1575.84 351.33 1576.18 354.65 1576.52 358.07C1576.84 361.35 1577.17 364.71 1577.49 368.17C1577.81 371.47 1578.12 374.85 1578.43 378.32C1578.72 381.62 1579.02 384.99 1579.31 388.44C1579.60 391.72 1579.88 395.06 1580.16 398.47C1580.44 401.87 1580.72 405.34 1581.00 408.88C1581.27 412.23 1581.53 415.63 1581.80 419.10C1582.07 422.56 1582.33 426.07 1582.60 429.65C1582.85 433.02 1583.10 436.44 1583.36 439.91C1583.61 443.38 1583.86 446.90 1584.11 450.46C1584.35 453.82 1584.58 457.21 1584.82 460.65C1585.06 464.08 1585.29 467.56 1585.53 471.07C1585.75 474.37 1585.97 477.70 1586.20 481.06C1586.42 484.42 1586.64 487.82 1586.86 491.25C1587.08 494.68 1587.31 498.14 1587.53 501.63C1587.75 505.12 1587.97 508.64 1588.19 512.20C1588.40 515.51 1588.61 518.86 1588.82 522.23C1589.02 525.60 1589.23 528.99 1589.44 532.41C1589.65 535.83 1589.85 539.27 1590.06 542.74C1590.27 546.21 1590.47 549.70 1590.68 553.21C1590.89 556.72 1591.10 560.26 1591.30 563.82C1591.51 567.38 1591.72 570.96 1591.92 574.56C1592.12 577.90 1592.31 581.26 1592.50 584.64C1592.69 588.02 1592.89 591.41 1593.08 594.82C1593.27 598.24 1593.46 601.66 1593.66 605.10C1593.85 608.55 1594.04 612.00 1594.23 615.48C1594.43 618.95 1594.62 622.43 1594.81 625.93C1595.00 629.43 1595.20 632.94 1595.39 636.47C1595.58 639.99 1595.77 643.53 1595.96 647.08C1596.16 650.63 1596.35 654.19 1596.54 657.76C1596.73 661.33 1596.93 664.91 1597.12 668.50C1597.31 672.08 1597.50 675.68 1597.70 679.29C1597.87 682.62 1598.05 685.95 1598.23 689.29C1598.41 692.64 1598.58 695.98 1598.76 699.34C1598.94 702.69 1599.12 706.05 1599.29 709.41C1599.47 712.77 1599.65 716.14 1599.83 719.51C1600.01 722.87 1600.18 726.25 1600.36 729.62C1600.54 733.00 1600.72 736.37 1600.89 739.75C1601.07 743.13 1601.25 746.51 1601.43 749.89C1601.60 753.27 1601.78 756.65 1601.96 760.03C1602.14 763.40 1602.31 766.78 1602.49 770.16C1602.67 773.54 1602.85 776.91 1603.02 780.28C1603.20 783.65 1603.38 787.02 1603.56 790.39C1603.73 793.75 1603.91 797.11 1604.09 800.47C1604.27 803.82 1604.45 807.17 1604.62 810.51C1604.80 813.86 1604.98 817.20 1605.16 820.53C1605.35 824.13 1605.54 827.73 1605.73 831.32C1605.93 834.91 1606.12 838.49 1606.31 842.05C1606.50 845.62 1606.69 849.17 1606.89 852.72C1607.08 856.26 1607.27 859.79 1607.46 863.30C1607.66 866.81 1607.85 870.31 1608.04 873.79C1608.23 877.27 1608.43 880.74 1608.62 884.18C1608.81 887.63 1609.00 891.06 1609.20 894.46C1609.39 897.87 1609.58 901.26 1609.77 904.63C1609.97 907.99 1610.16 911.34 1610.35 914.66C1610.56 918.23 1610.76 921.78 1610.97 925.30C1611.18 928.82 1611.39 932.31 1611.59 935.77C1611.80 939.22 1612.01 942.65 1612.22 946.04C1612.42 949.43 1612.63 952.79 1612.84 956.11C1613.06 959.67 1613.28 963.18 1613.50 966.65C1613.72 970.12 1613.95 973.55 1614.17 976.92C1614.39 980.30 1614.61 983.63 1614.83 986.91C1615.07 990.40 1615.31 993.84 1615.55 997.21C1615.80 1000.80 1616.05 1004.31 1616.30 1007.75C1616.55 1011.19 1616.80 1014.55 1617.05 1017.83C1617.32 1021.31 1617.59 1024.69 1617.85 1027.98C1618.14 1031.45 1618.42 1034.81 1618.70 1038.06C1619.01 1041.65 1619.32 1045.10 1619.63 1048.41C1619.97 1052.02 1620.31 1055.45 1620.65 1058.69C1621.04 1062.35 1621.42 1065.77 1621.81 1068.91C1622.26 1072.66 1622.72 1076.03 1623.18 1078.97C1623.83 1083.15 1624.48 1086.49 1625.14 1088.87C1626.67 1094.48 1628.21 1094.34 1629.74 1088.86C1630.41 1086.47 1631.08 1083.10 1631.75 1078.84C1632.21 1075.90 1632.68 1072.54 1633.14 1068.78C1633.51 1065.71 1633.89 1062.36 1634.27 1058.77C1634.60 1055.57 1634.94 1052.17 1635.27 1048.58C1635.58 1045.29 1635.88 1041.84 1636.19 1038.24C1636.47 1034.97 1636.75 1031.57 1637.03 1028.04C1637.29 1024.70 1637.56 1021.25 1637.82 1017.69C1638.08 1014.32 1638.33 1010.85 1638.58 1007.30C1638.82 1003.95 1639.05 1000.51 1639.29 997.00C1639.51 993.70 1639.74 990.33 1639.96 986.89C1640.18 983.46 1640.41 979.96 1640.63 976.40C1640.84 973.06 1641.05 969.67 1641.26 966.23C1641.47 962.79 1641.68 959.29 1641.89 955.75C1642.08 952.44 1642.28 949.09 1642.47 945.70C1642.67 942.31 1642.86 938.88 1643.06 935.41C1643.25 931.95 1643.45 928.44 1643.64 924.89C1643.84 921.35 1644.04 917.77 1644.23 914.15C1644.41 910.79 1644.59 907.41 1644.77 903.99C1644.96 900.58 1645.14 897.13 1645.32 893.66C1645.50 890.19 1645.68 886.69 1645.86 883.17C1646.04 879.65 1646.23 876.10 1646.41 872.53C1646.59 868.96 1646.77 865.37 1646.95 861.75C1647.12 858.41 1647.29 855.05 1647.45 851.68C1647.62 848.30 1647.79 844.91 1647.96 841.50C1648.12 838.09 1648.29 834.67 1648.46 831.23C1648.63 827.79 1648.79 824.33 1648.96 820.87C1649.13 817.40 1649.30 813.91 1649.46 810.42C1649.63 806.92 1649.80 803.42 1649.97 799.90C1650.13 796.38 1650.30 792.85 1650.47 789.31C1650.64 785.77 1650.80 782.21 1650.97 778.65C1651.14 775.09 1651.31 771.53 1651.47 767.95C1651.64 764.37 1651.81 760.79 1651.98 757.20C1652.14 753.60 1652.31 750.01 1652.48 746.40C1652.65 742.80 1652.81 739.19 1652.98 735.58C1653.15 731.97 1653.32 728.35 1653.48 724.73C1653.65 721.11 1653.82 717.48 1653.99 713.86C1654.15 710.23 1654.32 706.61 1654.49 702.98C1654.66 699.35 1654.82 695.72 1654.99 692.09C1655.16 688.46 1655.33 684.84 1655.49 681.21C1655.66 677.58 1655.83 673.96 1655.99 670.34C1656.16 666.71 1656.33 663.09 1656.50 659.48C1656.66 655.86 1656.83 652.25 1657.00 648.64C1657.17 645.03 1657.33 641.43 1657.50 637.83C1657.67 634.24 1657.84 630.64 1658.00 627.06C1658.17 623.48 1658.34 619.90 1658.51 616.33C1658.67 612.76 1658.84 609.20 1659.01 605.65C1659.18 602.10 1659.34 598.55 1659.51 595.02C1659.68 591.49 1659.85 587.96 1660.01 584.45C1660.18 580.94 1660.35 577.44 1660.52 573.95C1660.68 570.46 1660.85 566.99 1661.02 563.52C1661.19 560.06 1661.35 556.61 1661.52 553.18C1661.69 549.74 1661.86 546.32 1662.02 542.91C1662.19 539.51 1662.36 536.11 1662.53 532.74C1662.69 529.36 1662.86 526.00 1663.03 522.66C1663.21 519.04 1663.39 515.44 1663.57 511.86C1663.75 508.28 1663.94 504.72 1664.12 501.18C1664.30 497.65 1664.48 494.13 1664.66 490.64C1664.84 487.15 1665.02 483.68 1665.21 480.24C1665.39 476.79 1665.57 473.37 1665.75 469.98C1665.93 466.58 1666.11 463.22 1666.29 459.87C1666.49 456.28 1666.68 452.71 1666.88 449.17C1667.08 445.63 1667.27 442.13 1667.47 438.66C1667.66 435.19 1667.86 431.75 1668.05 428.34C1668.25 424.94 1668.44 421.57 1668.64 418.24C1668.85 414.66 1669.06 411.13 1669.27 407.64C1669.48 404.15 1669.69 400.70 1669.89 397.30C1670.10 393.89 1670.31 390.53 1670.52 387.22C1670.75 383.68 1670.97 380.19 1671.19 376.76C1671.42 373.32 1671.64 369.94 1671.86 366.61C1672.10 363.07 1672.34 359.59 1672.57 356.18C1672.81 352.76 1673.05 349.41 1673.29 346.12C1673.54 342.64 1673.79 339.22 1674.04 335.88C1674.30 332.36 1674.57 328.91 1674.83 325.55C1675.11 322.01 1675.39 318.56 1675.67 315.20C1675.97 311.68 1676.26 308.26 1676.55 304.94C1676.86 301.47 1677.17 298.11 1677.47 294.86C1677.81 291.33 1678.14 287.93 1678.48 284.67C1678.84 281.14 1679.20 277.77 1679.57 274.57C1679.97 271.00 1680.38 267.64 1680.78 264.48C1681.24 260.90 1681.70 257.58 1682.16 254.53C1682.72 250.84 1683.28 247.54 1683.84 244.64C1684.62 240.59 1685.40 237.31 1686.18 234.79C1688.09 228.64 1690.00 227.02 1691.91 229.54C1693.11 231.13 1694.32 234.34 1695.52 238.94C1696.25 241.73 1696.98 245.03 1697.72 248.80C1698.30 251.82 1698.89 255.13 1699.47 258.72C1699.99 261.91 1700.51 265.31 1701.03 268.92C1701.49 272.08 1701.94 275.39 1702.40 278.85C1702.82 282.06 1703.25 285.39 1703.67 288.84C1704.08 292.16 1704.48 295.59 1704.89 299.12C1705.26 302.36 1705.64 305.70 1706.01 309.11C1706.37 312.38 1706.73 315.72 1707.08 319.13C1707.43 322.39 1707.77 325.71 1708.11 329.09C1708.45 332.47 1708.79 335.91 1709.13 339.41C1709.46 342.74 1709.79 346.13 1710.11 349.56C1710.44 352.99 1710.76 356.47 1711.09 360.00C1711.40 363.35 1711.70 366.75 1712.01 370.18C1712.32 373.61 1712.63 377.08 1712.94 380.59C1713.23 383.92 1713.53 387.27 1713.82 390.66C1714.11 394.05 1714.40 397.47 1714.70 400.92C1714.99 404.36 1715.28 407.84 1715.58 411.34C1715.85 414.65 1716.13 417.99 1716.41 421.34C1716.68 424.70 1716.96 428.08 1717.24 431.48C1717.51 434.87 1717.79 438.29 1718.06 441.73C1718.34 445.17 1718.62 448.63 1718.89 452.11C1719.17 455.58 1719.45 459.08 1719.72 462.59C1720.00 466.10 1720.28 469.62 1720.55 473.16C1720.81 476.49 1721.07 479.84 1721.33 483.19C1721.59 486.55 1721.85 489.92 1722.12 493.29C1722.38 496.67 1722.64 500.06 1722.90 503.46C1723.16 506.85 1723.42 510.26 1723.68 513.67C1723.94 517.08 1724.20 520.50 1724.46 523.93C1724.72 527.35 1724.98 530.79 1725.24 534.22C1725.50 537.66 1725.76 541.10 1726.02 544.55C1726.28 547.99 1726.54 551.44 1726.80 554.89C1727.06 558.34 1727.32 561.80 1727.58 565.25C1727.84 568.70 1728.10 572.16 1728.36 575.61C1728.62 579.06 1728.88 582.52 1729.14 585.97C1729.40 589.42 1729.66 592.87 1729.92 596.31C1730.18 599.76 1730.44 603.20 1730.70 606.64C1730.96 610.08 1731.22 613.51 1731.48 616.94C1731.75 620.37 1732.01 623.79 1732.27 627.20C1732.53 630.61 1732.79 634.02 1733.05 637.42C1733.31 640.81 1733.57 644.20 1733.83 647.58C1734.09 650.96 1734.35 654.32 1734.61 657.68C1734.87 661.03 1735.13 664.38 1735.39 667.71C1735.67 671.25 1735.94 674.77 1736.22 678.28C1736.49 681.78 1736.77 685.27 1737.05 688.74C1737.32 692.22 1737.60 695.67 1737.88 699.10C1738.15 702.53 1738.43 705.94 1738.71 709.33C1738.98 712.72 1739.26 716.09 1739.54 719.44C1739.83 722.98 1740.12 726.49 1740.42 729.97C1740.71 733.46 1741.00 736.91 1741.29 740.33C1741.59 743.76 1741.88 747.15 1742.17 750.50C1742.46 753.86 1742.76 757.18 1743.05 760.47C1743.36 763.94 1743.67 767.37 1743.98 770.75C1744.29 774.14 1744.60 777.48 1744.90 780.78C1745.23 784.24 1745.56 787.66 1745.88 791.02C1746.22 794.55 1746.56 798.02 1746.91 801.43C1747.25 804.83 1747.59 808.17 1747.93 811.44C1748.29 814.87 1748.65 818.22 1749.00 821.49C1749.38 824.91 1749.75 828.24 1750.13 831.47C1750.53 834.99 1750.94 838.39 1751.35 841.68C1751.79 845.22 1752.22 848.63 1752.66 851.89C1753.14 855.39 1753.61 858.71 1754.08 861.85C1754.62 865.42 1755.15 868.75 1755.69 871.82C1756.34 875.53 1756.99 878.86 1757.64 881.77C1758.57 885.90 1759.50 889.17 1760.42 891.45C1762.48 896.51 1764.53 896.08 1766.59 891.44C1767.61 889.14 1768.63 885.88 1769.65 881.91C1770.41 878.93 1771.18 875.55 1771.94 871.86C1772.58 868.78 1773.21 865.49 1773.85 862.03C1774.45 858.80 1775.04 855.42 1775.64 851.93C1776.19 848.69 1776.74 845.36 1777.29 841.95C1777.82 838.68 1778.36 835.34 1778.89 831.95C1779.42 828.57 1779.95 825.14 1780.48 821.68C1780.99 818.36 1781.50 815.02 1782.01 811.67C1782.52 808.32 1783.03 804.96 1783.54 801.60C1784.05 798.25 1784.56 794.89 1785.07 791.56C1785.58 788.22 1786.09 784.90 1786.60 781.61C1787.13 778.18 1787.66 774.77 1788.19 771.41C1788.72 768.05 1789.25 764.72 1789.79 761.44C1790.34 758.04 1790.89 754.68 1791.44 751.38C1792.02 747.96 1792.59 744.60 1793.16 741.32C1793.76 737.91 1794.35 734.58 1794.95 731.33C1795.59 727.86 1796.22 724.48 1796.86 721.20C1797.52 717.81 1798.18 714.53 1798.84 711.36C1799.56 707.89 1800.28 704.55 1801.00 701.35C1801.79 697.87 1802.57 694.55 1803.36 691.39C1804.21 687.97 1805.06 684.74 1805.91 681.70C1806.87 678.27 1807.82 675.07 1808.78 672.08C1809.88 668.62 1810.99 665.45 1812.09 662.53C1813.39 659.10 1814.68 656.01 1815.98 653.20C1817.51 649.87 1819.04 646.93 1820.57 644.25C1822.35 641.12 1824.14 638.35 1825.92 635.74C1827.88 632.88 1829.83 630.22 1831.79 627.57C1833.76 624.89 1835.74 622.21 1837.71 619.45C1839.65 616.75 1841.58 613.97 1843.51 611.19C1845.47 608.37 1847.42 605.55 1849.38 603.01C1851.73 599.94 1854.09 597.27 1856.45 596.01C1859.40 594.44 1862.36 595.36 1865.31 598.59C1867.06 600.51 1868.81 603.34 1870.56 607.08C1871.81 609.75 1873.05 612.87 1874.30 616.41C1875.33 619.33 1876.35 622.53 1877.38 625.98C1878.28 629.04 1879.19 632.29 1880.10 635.71C1880.93 638.83 1881.76 642.09 1882.59 645.45C1883.39 648.66 1884.18 651.96 1884.97 655.33C1885.72 658.53 1886.47 661.79 1887.23 665.09C1887.97 668.34 1888.71 671.61 1889.45 674.90C1890.19 678.18 1890.93 681.48 1891.67 684.75C1892.42 688.08 1893.17 691.40 1893.92 694.67C1894.69 697.99 1895.45 701.27 1896.22 704.47C1897.02 707.84 1897.83 711.12 1898.63 714.28C1899.49 717.65 1900.35 720.88 1901.20 723.95C1902.16 727.39 1903.12 730.63 1904.08 733.60C1905.23 737.14 1906.37 740.31 1907.51 743.07C1909.08 746.85 1910.65 749.82 1912.22 751.88C1915.01 755.54 1917.80 756.47 1920.59 753.73C1922.26 752.10 1923.93 749.19 1925.60 745.04C1926.68 742.34 1927.77 739.12 1928.85 735.39C1929.72 732.41 1930.59 729.09 1931.45 725.45C1932.19 722.36 1932.93 719.04 1933.67 715.48C1934.32 712.34 1934.97 709.02 1935.62 705.53C1936.20 702.38 1936.79 699.10 1937.38 695.67C1937.92 692.49 1938.46 689.20 1939.00 685.78C1939.52 682.50 1940.04 679.11 1940.56 675.62C1941.06 672.26 1941.56 668.81 1942.06 665.27C1942.52 662.03 1942.97 658.71 1943.43 655.31C1943.86 652.07 1944.29 648.76 1944.73 645.38C1945.16 641.99 1945.60 638.54 1946.03 635.02C1946.44 631.67 1946.85 628.26 1947.27 624.79C1947.66 621.50 1948.05 618.16 1948.44 614.76C1948.83 611.36 1949.22 607.91 1949.61 604.41C1949.98 601.10 1950.35 597.74 1950.71 594.33C1951.08 590.93 1951.45 587.48 1951.82 583.99C1952.17 580.70 1952.51 577.37 1952.86 574.00C1953.21 570.63 1953.56 567.23 1953.90 563.78C1954.25 560.34 1954.60 556.86 1954.94 553.34C1955.27 550.04 1955.59 546.71 1955.92 543.35C1956.24 539.98 1956.57 536.59 1956.90 533.17C1957.22 529.74 1957.55 526.29 1957.87 522.81C1958.20 519.32 1958.52 515.81 1958.85 512.27C1959.15 508.96 1959.45 505.64 1959.76 502.28C1960.06 498.93 1960.37 495.55 1960.67 492.15C1960.97 488.76 1961.28 485.33 1961.58 481.89C1961.88 478.45 1962.19 474.98 1962.49 471.50C1962.79 468.01 1963.10 464.50 1963.40 460.98C1963.71 457.45 1964.01 453.90 1964.31 450.34C1964.60 447.03 1964.88 443.70 1965.16 440.36C1965.44 437.02 1965.72 433.66 1966.00 430.29C1966.29 426.92 1966.57 423.54 1966.85 420.14C1967.13 416.74 1967.41 413.33 1967.70 409.90C1967.98 406.48 1968.26 403.04 1968.54 399.59C1968.82 396.15 1969.11 392.69 1969.39 389.22C1969.67 385.75 1969.95 382.27 1970.23 378.78C1970.52 375.29 1970.80 371.79 1971.08 368.28C1971.36 364.77 1971.64 361.25 1971.93 357.73C1972.21 354.21 1972.49 350.68 1972.77 347.14C1973.05 343.60 1973.34 340.06 1973.62 336.51C1973.90 332.97 1974.18 329.41 1974.46 325.86C1974.75 322.30 1975.03 318.74 1975.31 315.18C1975.59 311.61 1975.87 308.05 1976.16 304.48C1976.44 300.91 1976.72 297.34 1977.00 293.78C1977.28 290.21 1977.56 286.64 1977.85 283.07C1978.13 279.50 1978.41 275.93 1978.69 272.37C1978.97 268.81 1979.26 265.24 1979.54 261.69C1979.82 258.13 1980.10 254.57 1980.38 251.02C1980.67 247.48 1980.95 243.93 1981.23 240.39C1981.51 236.86 1981.79 233.32 1982.08 229.80C1982.36 226.28 1982.64 222.76 1982.92 219.26C1983.20 215.75 1983.49 212.26 1983.77 208.77C1984.05 205.29 1984.33 201.81 1984.61 198.35C1984.90 194.89 1985.18 191.44 1985.46 188.00C1985.74 184.57 1986.02 181.14 1986.31 177.74C1986.59 174.33 1986.87 170.94 1987.15 167.57C1987.43 164.20 1987.72 160.84 1988.00 157.50C1988.30 153.91 1988.60 150.34 1988.91 146.79C1989.21 143.24 1989.52 139.72 1989.82 136.22C1990.12 132.72 1990.43 129.25 1990.73 125.81C1991.03 122.37 1991.34 118.95 1991.64 115.57C1991.94 112.18 1992.25 108.83 1992.55 105.51C1992.88 101.95 1993.20 98.43 1993.53 94.95C1993.85 91.47 1994.18 88.03 1994.50 84.64C1994.83 81.24 1995.15 77.89 1995.48 74.59C1995.83 71.06 1996.17 67.59 1996.52 64.18C1996.87 60.76 1997.22 57.41 1997.56 54.11C1997.93 50.61 1998.30 47.17 1998.67 43.81C1999.06 40.25 1999.45 36.78 1999.84 33.39C2000.25 29.81 2000.66 26.33 2001.08 22.96C2001.51 19.41 2001.94 15.97 2002.38 12.67C2002.83 9.19 2003.29 5.85 2003.74 2.66C2004.24 -0.83 2004.74 -4.15 2005.24 -7.27" stroke="#0047ab" stroke-width="8.90" fill="none" stroke-linecap="round" stroke-linejoin="round" clip-path="url(#ax)"/>
<g clip-path="url(#ax)"><path d="M359.3 683.6L368.4 312.0L370.1 259.9L372.0 183.3L373.9 106.6L375.4 40.5L376.4 0.0M418.00 20.00C418.87 20.04 419.75 23.33 420.62 27.41C421.14 29.83 421.66 32.54 422.17 35.26C422.69 37.98 423.21 40.70 423.73 43.25C424.31 46.11 424.89 48.76 425.46 51.11C426.22 54.17 426.97 56.73 427.72 58.83C428.87 62.04 430.01 64.20 431.16 66.06C432.53 68.28 433.90 70.16 435.27 72.96C436.24 74.93 437.20 77.36 438.17 80.43C438.88 82.70 439.59 85.31 440.30 88.26C440.88 90.67 441.46 93.30 442.04 96.11C442.56 98.63 443.07 101.30 443.59 104.08C444.07 106.64 444.55 109.29 445.02 111.98C445.49 114.62 445.96 117.31 446.43 120.01C446.89 122.70 447.36 125.40 447.83 128.06C448.30 130.78 448.78 133.46 449.26 136.05C449.77 138.81 450.27 141.48 450.78 144.01C451.35 146.83 451.92 149.49 452.49 151.92C453.18 154.87 453.87 157.49 454.56 159.74C455.56 162.99 456.55 165.45 457.55 167.21C459.62 170.88 461.70 171.53 463.77 171.50C465.97 171.46 468.17 169.78 470.38 167.32C471.98 165.53 473.58 163.32 475.19 160.87C476.58 158.73 477.98 156.42 479.37 153.99C480.66 151.73 481.95 149.38 483.23 146.95C484.46 144.63 485.69 142.23 486.92 139.78C488.11 137.42 489.29 135.00 490.47 132.54C491.62 130.15 492.77 127.71 493.91 125.25C495.04 122.83 496.16 120.39 497.29 117.94C498.41 115.48 499.54 113.03 500.66 110.60C501.81 108.13 502.96 105.69 504.10 103.35C505.34 100.82 506.59 98.41 507.83 96.24C509.35 93.57 510.87 91.27 512.39 89.67C514.75 87.19 517.10 86.84 519.46 88.45C521.16 89.60 522.85 91.73 524.55 94.56C525.79 96.63 527.04 99.06 528.28 101.68C529.39 104.02 530.50 106.51 531.61 109.00C532.72 111.49 533.83 113.98 534.94 116.33C536.16 118.93 537.39 121.36 538.62 123.47C540.21 126.21 541.81 128.39 543.40 129.88C545.90 132.22 548.41 132.77 550.91 132.56C553.43 132.33 555.95 131.23 558.48 129.75C560.83 128.38 563.18 126.73 565.54 125.51C568.14 124.15 570.75 123.38 573.35 123.52C575.95 123.66 578.55 124.54 581.14 125.89C583.49 127.10 585.84 128.67 588.18 130.18C590.53 131.69 592.87 133.11 595.22 134.07C597.89 135.16 600.57 135.58 603.25 135.31C605.83 135.06 608.42 134.22 611.00 133.01C613.33 131.91 615.67 130.51 618.00 129.10C620.33 127.69 622.67 126.27 625.00 125.13C627.58 123.87 630.17 122.97 632.75 122.64C635.34 122.32 637.93 122.61 640.51 123.97C642.69 125.11 644.86 126.90 647.03 129.11C648.87 130.98 650.71 133.15 652.54 135.43C654.21 137.50 655.88 139.66 657.56 141.75C659.31 143.94 661.06 146.05 662.82 147.91C664.91 150.13 667.00 151.98 669.08 153.26C671.67 154.85 674.27 155.51 676.86 155.23C679.37 154.96 681.88 153.86 684.39 152.20C686.57 150.77 688.75 148.93 690.92 147.04C693.02 145.23 695.11 143.39 697.20 141.85C699.63 140.06 702.06 138.70 704.49 138.08C707.16 137.41 709.83 137.63 712.50 138.94C714.67 140.00 716.83 141.72 719.00 143.86C720.83 145.67 722.67 147.77 724.50 149.95C726.25 152.03 728.00 154.18 729.75 156.20C731.67 158.40 733.58 160.44 735.50 162.09C737.83 164.09 740.17 165.50 742.50 166.09C745.09 166.73 747.69 166.33 750.28 164.50C752.21 163.15 754.14 161.10 756.07 158.65C757.66 156.63 759.25 154.34 760.85 152.01C762.44 149.68 764.03 147.31 765.62 145.14C767.38 142.74 769.15 140.59 770.91 138.95C773.25 136.76 775.60 135.49 777.95 135.40C780.45 135.32 782.95 136.24 785.45 137.95C787.45 139.32 789.45 141.20 791.45 143.41C793.20 145.34 794.95 147.52 796.70 149.76C798.37 151.90 800.03 154.10 801.70 156.21C803.45 158.43 805.20 160.53 806.95 162.37C809.03 164.55 811.12 166.34 813.20 167.54C815.78 169.03 818.37 169.53 820.95 169.18C823.46 168.85 825.97 167.78 828.48 166.20C830.65 164.82 832.82 163.08 834.99 161.23C837.08 159.45 839.17 157.58 841.26 155.90C843.52 154.09 845.77 152.49 848.03 151.40C850.62 150.14 853.21 149.57 855.80 149.73C858.38 149.89 860.97 150.68 863.55 151.89C865.88 152.98 868.22 154.39 870.55 155.80C872.97 157.26 875.38 158.69 877.80 159.75C880.38 160.88 882.97 161.56 885.55 161.60C888.23 161.64 890.91 161.17 893.60 160.44C896.20 159.73 898.79 158.78 901.39 158.00C904.08 157.18 906.76 156.57 909.44 156.43C912.03 156.30 914.61 156.78 917.20 158.10C919.45 159.24 921.70 160.92 923.95 162.86C925.95 164.58 927.95 166.50 929.95 168.35C932.03 170.27 934.12 172.13 936.20 173.63C938.62 175.38 941.03 176.65 943.45 177.19C946.12 177.79 948.78 177.49 951.45 176.17C953.62 175.10 955.78 173.40 957.95 171.40C959.87 169.62 961.78 167.62 963.70 165.68C965.70 163.65 967.70 161.71 969.70 160.15C972.12 158.26 974.53 156.97 976.95 156.55C979.54 156.11 982.12 156.69 984.71 158.25C986.79 159.51 988.88 161.38 990.97 163.63C992.72 165.52 994.47 167.67 996.22 169.88C997.89 171.99 999.56 174.16 1001.23 176.21C1003.07 178.46 1004.90 180.56 1006.74 182.31C1008.99 184.45 1011.24 186.05 1013.50 186.86C1016.17 187.83 1018.84 187.64 1021.51 186.71C1023.84 185.90 1026.18 184.48 1028.52 182.67C1030.60 181.05 1032.69 179.13 1034.77 177.17C1036.78 175.28 1038.78 173.34 1040.78 171.60C1042.95 169.71 1045.12 168.05 1047.29 166.85C1049.88 165.42 1052.46 164.63 1055.05 164.70C1057.48 164.77 1059.91 165.87 1062.34 167.79C1064.27 169.31 1066.20 171.34 1068.12 173.63C1069.80 175.62 1071.48 177.80 1073.15 179.98C1074.83 182.15 1076.50 184.31 1078.18 186.26C1080.11 188.50 1082.03 190.46 1083.96 191.90C1086.48 193.77 1088.99 194.72 1091.50 194.59C1094.02 194.46 1096.54 193.32 1099.05 191.49C1101.07 190.03 1103.08 188.14 1105.09 186.18C1107.11 184.22 1109.12 182.20 1111.13 180.50C1113.40 178.58 1115.66 177.08 1117.93 176.34C1120.61 175.46 1123.29 175.72 1125.97 176.59C1128.40 177.37 1130.82 178.74 1133.25 180.42C1135.43 181.93 1137.60 183.68 1139.78 185.39C1141.95 187.11 1144.13 188.78 1146.31 190.14C1148.82 191.71 1151.33 192.85 1153.84 193.33C1156.52 193.85 1159.20 193.59 1161.88 192.76C1164.31 192.00 1166.74 190.76 1169.17 189.42C1171.60 188.07 1174.03 186.62 1176.45 185.51C1179.05 184.33 1181.65 183.54 1184.25 183.42C1186.83 183.30 1189.42 183.98 1192.01 185.44C1194.18 186.67 1196.35 188.40 1198.52 190.37C1200.52 192.18 1202.52 194.20 1204.53 196.14C1206.53 198.08 1208.53 199.94 1210.54 201.47C1212.87 203.27 1215.21 204.60 1217.55 205.25C1220.21 205.98 1222.88 205.79 1225.55 204.83C1227.88 203.98 1230.22 202.53 1232.55 200.76C1234.63 199.18 1236.72 197.35 1238.80 195.55C1240.88 193.75 1242.97 191.99 1245.05 190.55C1247.47 188.87 1249.88 187.62 1252.30 187.05C1254.89 186.45 1257.48 186.59 1260.07 188.20C1262.08 189.44 1264.09 191.43 1266.09 193.92C1267.68 195.89 1269.27 198.17 1270.86 200.56C1272.37 202.83 1273.88 205.20 1275.38 207.50C1276.97 209.92 1278.56 212.26 1280.15 214.32C1281.99 216.71 1283.83 218.72 1285.68 220.13C1288.18 222.06 1290.69 222.77 1293.20 222.39C1295.63 222.02 1298.05 220.73 1300.48 218.83C1302.48 217.25 1304.49 215.26 1306.50 213.17C1308.42 211.18 1310.34 209.10 1312.26 207.25C1314.44 205.15 1316.61 203.36 1318.78 202.20C1321.38 200.82 1323.97 200.42 1326.56 200.91C1328.99 201.38 1331.42 202.59 1333.85 204.37C1335.86 205.84 1337.87 207.69 1339.88 209.72C1341.72 211.59 1343.56 213.60 1345.40 215.58C1347.33 217.65 1349.26 219.69 1351.18 221.48C1353.36 223.50 1355.54 225.22 1357.72 226.41C1360.31 227.82 1362.91 228.52 1365.50 228.25C1367.92 227.99 1370.33 226.78 1372.75 224.90C1374.75 223.34 1376.75 221.34 1378.75 219.22C1380.58 217.28 1382.42 215.25 1384.25 213.41C1386.33 211.32 1388.42 209.49 1390.50 208.25C1393.09 206.70 1395.67 206.09 1398.26 206.56C1400.68 206.99 1403.10 208.35 1405.53 210.35C1407.45 211.93 1409.37 213.91 1411.29 216.00C1413.13 218.01 1414.97 220.12 1416.81 222.08C1418.82 224.22 1420.82 226.16 1422.83 227.63C1425.33 229.46 1427.84 230.53 1430.35 230.60C1432.87 230.66 1435.38 229.80 1437.90 228.30C1440.08 227.00 1442.26 225.23 1444.45 223.42C1446.63 221.61 1448.81 219.76 1450.99 218.33C1453.51 216.68 1456.03 215.60 1458.54 215.43C1461.13 215.25 1463.71 216.04 1466.30 217.67C1468.38 218.98 1470.47 220.83 1472.55 222.99C1474.38 224.89 1476.22 227.03 1478.05 229.21C1479.80 231.29 1481.55 233.40 1483.30 235.37C1485.22 237.53 1487.13 239.51 1489.05 241.11C1491.38 243.06 1493.72 244.44 1496.05 245.04C1498.64 245.71 1501.22 245.42 1503.81 243.76C1505.81 242.48 1507.81 240.46 1509.82 238.03C1511.49 236.00 1513.15 233.68 1514.82 231.33C1516.41 229.10 1518.00 226.84 1519.58 224.77C1521.42 222.37 1523.25 220.24 1525.09 218.65C1527.51 216.56 1529.93 215.43 1532.35 215.50C1534.78 215.58 1537.20 216.84 1539.63 219.04C1541.39 220.63 1543.15 222.71 1544.90 225.06C1546.49 227.18 1548.08 229.53 1549.67 231.91C1551.18 234.16 1552.68 236.44 1554.19 238.57C1555.86 240.93 1557.54 243.12 1559.21 244.92C1561.39 247.26 1563.56 248.94 1565.74 249.71C1568.33 250.63 1570.92 250.23 1573.51 248.48C1575.44 247.19 1577.36 245.19 1579.28 242.75C1580.87 240.74 1582.46 238.44 1584.05 236.07C1585.55 233.81 1587.05 231.50 1588.56 229.31C1590.23 226.88 1591.90 224.62 1593.57 222.75C1595.75 220.33 1597.92 218.59 1600.09 217.84C1602.69 216.94 1605.28 217.46 1607.87 219.11C1609.88 220.38 1611.89 222.35 1613.90 224.73C1615.57 226.71 1617.25 228.97 1618.92 231.28C1620.51 233.48 1622.10 235.73 1623.69 237.82C1625.45 240.14 1627.21 242.26 1628.96 243.96C1631.22 246.14 1633.48 247.61 1635.74 248.11C1638.33 248.67 1640.93 247.99 1643.52 246.38C1645.61 245.07 1647.70 243.15 1649.79 240.91C1651.54 239.03 1653.30 236.93 1655.05 234.86C1656.89 232.68 1658.73 230.54 1660.57 228.69C1662.74 226.50 1664.91 224.73 1667.09 223.69C1669.68 222.46 1672.27 222.24 1674.86 223.22C1677.04 224.03 1679.21 225.66 1681.39 227.88C1683.15 229.67 1684.90 231.84 1686.66 234.18C1688.25 236.30 1689.84 238.56 1691.43 240.78C1693.10 243.13 1694.78 245.44 1696.45 247.51C1698.29 249.79 1700.13 251.79 1701.97 253.30C1704.40 255.30 1706.82 256.43 1709.25 256.50C1711.83 256.57 1714.42 255.67 1717.00 254.07C1719.17 252.73 1721.33 250.89 1723.50 248.90C1725.50 247.05 1727.50 245.09 1729.50 243.30C1731.67 241.36 1733.83 239.64 1736.00 238.44C1738.59 237.02 1741.17 236.43 1743.76 236.65C1746.36 236.88 1748.96 237.84 1751.57 239.19C1753.92 240.41 1756.27 241.93 1758.62 243.31C1761.05 244.74 1763.48 245.99 1765.92 246.68C1768.60 247.44 1771.28 247.60 1773.97 246.56C1776.23 245.68 1778.49 244.02 1780.75 241.87C1782.59 240.12 1784.43 238.05 1786.27 235.91C1788.03 233.87 1789.78 231.77 1791.54 229.84C1793.55 227.63 1795.56 225.65 1797.57 224.18C1800.08 222.33 1802.59 221.30 1805.10 221.30C1807.52 221.30 1809.95 222.50 1812.37 224.69C1814.12 226.28 1815.88 228.37 1817.63 230.75C1819.14 232.80 1820.64 235.06 1822.15 237.37C1823.65 239.68 1825.15 242.04 1826.66 244.27C1828.25 246.63 1829.83 248.84 1831.42 250.74C1833.43 253.13 1835.43 255.00 1837.44 256.11C1840.03 257.54 1842.62 257.67 1845.20 256.50C1847.29 255.56 1849.38 253.78 1851.46 251.43C1853.13 249.55 1854.80 247.31 1856.47 244.91C1857.97 242.75 1859.47 240.48 1860.98 238.25C1862.56 235.90 1864.15 233.62 1865.73 231.59C1867.57 229.23 1869.41 227.23 1871.24 225.80C1873.74 223.85 1876.25 223.06 1878.75 223.38C1881.17 223.69 1883.58 224.94 1886.00 226.86C1887.92 228.39 1889.83 230.34 1891.75 232.45C1893.58 234.48 1895.42 236.66 1897.25 238.73C1899.17 240.89 1901.08 242.94 1903.00 244.60C1905.33 246.63 1907.67 248.08 1910.00 248.68C1912.59 249.34 1915.17 248.94 1917.76 247.35C1919.76 246.12 1921.76 244.22 1923.77 241.91C1925.43 239.98 1927.10 237.77 1928.77 235.49C1930.36 233.32 1931.94 231.09 1933.53 228.98C1935.28 226.65 1937.03 224.47 1938.79 222.68C1940.96 220.45 1943.13 218.83 1945.30 218.04C1947.96 217.08 1950.63 217.44 1953.30 218.75C1955.47 219.81 1957.63 221.53 1959.80 223.61C1961.72 225.45 1963.63 227.57 1965.55 229.67C1967.47 231.78 1969.38 233.87 1971.30 235.66C1973.47 237.69 1975.63 239.32 1977.80 240.29C1980.47 241.47 1983.15 241.52 1985.82 240.87C1988.25 240.27 1990.68 239.06 1993.11 237.45C1995.29 236.01 1997.46 234.25 1999.64 232.42C2001.74 230.66 2003.83 228.85 2005.93 227.22C2008.19 225.45 2010.45 223.91 2012.71 222.82C2015.14 221.64 2017.57 221.02 2020.00 221.00" stroke="#ffa500" stroke-width="8.90" fill="none" stroke-linecap="round" stroke-linejoin="round"/></g>
<path d="M395.2 328.4H623.8" stroke="#ffa500" stroke-width="8.90" stroke-linecap="round"/>
<path d="M395.2 453.4H623.8" stroke="#0047ab" stroke-width="8.90" stroke-linecap="round"/>
<text transform="translate(646.80 360.70) scale(1.0020 1.0100)">5000ppm, <tspan x="427.94" letter-spacing="-0.42">no cavity</tspan></text>
<text transform="translate(646.80 485.70) scale(1.0020 1.0100)">5000ppm, <tspan x="426.75" font-style="italic">m</tspan> <tspan x="524.35">=</tspan> <tspan x="606.59" letter-spacing="-1.4">10</tspan></text>
<text transform="translate(285.70 1406.00) scale(1.0000 1.0200)" text-anchor="middle">0</text>
<text transform="translate(627.90 1406.00) scale(1.0000 1.0200)" text-anchor="middle">100</text>
<text transform="translate(970.10 1406.00) scale(1.0000 1.0200)" text-anchor="middle">200</text>
<text transform="translate(1312.30 1406.00) scale(1.0000 1.0200)" text-anchor="middle">300</text>
<text transform="translate(1654.50 1406.00) scale(1.0000 1.0200)" text-anchor="middle">400</text>
<text transform="translate(1996.70 1406.00) scale(1.0000 1.0200)" text-anchor="middle">500</text>
<text transform="translate(269.00 1367.00) scale(0.9850 1.0200)" text-anchor="end">0.4</text>
<text transform="translate(269.00 999.00) scale(0.9850 1.0200)" text-anchor="end">0.6</text>
<text transform="translate(269.00 631.00) scale(0.9850 1.0200)" text-anchor="end">0.8</text>
<text transform="translate(269.00 263.00) scale(0.9850 1.0200)" text-anchor="end">1.0</text>
<text transform="translate(1145.50 1498.30) scale(0.9910 1.0000)" text-anchor="middle">Frequency(GHz)</text>
<text transform="translate(102.00 682.50) rotate(-90)" text-anchor="middle">Transmittance</text>
</svg></body></html>
